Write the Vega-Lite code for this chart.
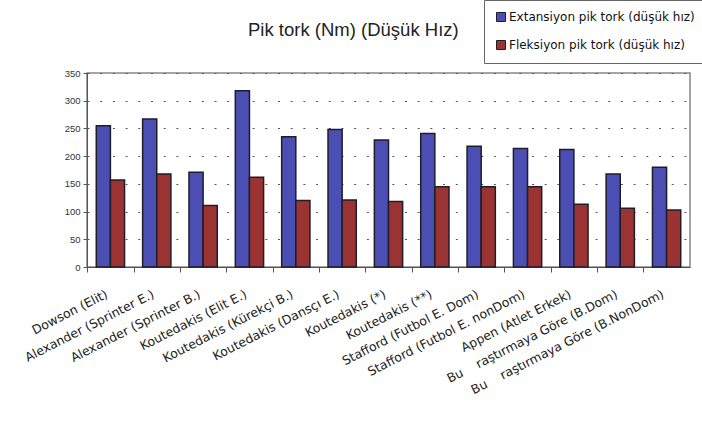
{
  "$schema": "https://vega.github.io/schema/vega-lite/v6.json",
  "autosize": "none",
  "width": 603,
  "height": 194,
  "padding": {"left": 87, "top": 73, "right": 12, "bottom": 168},
  "background": "white",
  "title": {
    "text": "Pik tork (Nm) (Düşük Hız)",
    "font": "Liberation Sans",
    "fontSize": 18.5,
    "fontWeight": "normal",
    "color": "#222",
    "anchor": "start",
    "frame": "group",
    "dx": 161,
    "baseline": "alphabetic",
    "offset": -55
  },
  "data": {
    "values": [
      {"kategori": "Dowson (Elit)", "seri": "Extansiyon pik tork (düşük hız)", "tork": 255},
      {"kategori": "Dowson (Elit)", "seri": "Fleksiyon pik tork (düşük hız)", "tork": 157},
      {"kategori": "Alexander (Sprinter E.)", "seri": "Extansiyon pik tork (düşük hız)", "tork": 267},
      {"kategori": "Alexander (Sprinter E.)", "seri": "Fleksiyon pik tork (düşük hız)", "tork": 168},
      {"kategori": "Alexander (Sprinter B.)", "seri": "Extansiyon pik tork (düşük hız)", "tork": 171},
      {"kategori": "Alexander (Sprinter B.)", "seri": "Fleksiyon pik tork (düşük hız)", "tork": 111},
      {"kategori": "Koutedakis (Elit E.)", "seri": "Extansiyon pik tork (düşük hız)", "tork": 318},
      {"kategori": "Koutedakis (Elit E.)", "seri": "Fleksiyon pik tork (düşük hız)", "tork": 162},
      {"kategori": "Koutedakis (Kürekçi B.)", "seri": "Extansiyon pik tork (düşük hız)", "tork": 235},
      {"kategori": "Koutedakis (Kürekçi B.)", "seri": "Fleksiyon pik tork (düşük hız)", "tork": 120},
      {"kategori": "Koutedakis (Dansçı E.)", "seri": "Extansiyon pik tork (düşük hız)", "tork": 248},
      {"kategori": "Koutedakis (Dansçı E.)", "seri": "Fleksiyon pik tork (düşük hız)", "tork": 121},
      {"kategori": "Koutedakis (*)", "seri": "Extansiyon pik tork (düşük hız)", "tork": 229},
      {"kategori": "Koutedakis (*)", "seri": "Fleksiyon pik tork (düşük hız)", "tork": 118},
      {"kategori": "Koutedakis (**)", "seri": "Extansiyon pik tork (düşük hız)", "tork": 241},
      {"kategori": "Koutedakis (**)", "seri": "Fleksiyon pik tork (düşük hız)", "tork": 145},
      {"kategori": "Stafford (Futbol E. Dom)", "seri": "Extansiyon pik tork (düşük hız)", "tork": 218},
      {"kategori": "Stafford (Futbol E. Dom)", "seri": "Fleksiyon pik tork (düşük hız)", "tork": 145},
      {"kategori": "Stafford (Futbol E. nonDom)", "seri": "Extansiyon pik tork (düşük hız)", "tork": 214},
      {"kategori": "Stafford (Futbol E. nonDom)", "seri": "Fleksiyon pik tork (düşük hız)", "tork": 145},
      {"kategori": "Appen (Atlet Erkek)", "seri": "Extansiyon pik tork (düşük hız)", "tork": 212},
      {"kategori": "Appen (Atlet Erkek)", "seri": "Fleksiyon pik tork (düşük hız)", "tork": 113},
      {"kategori": "Bu\u00a0\u00a0\u00a0\u00a0raştırmaya Göre (B.Dom)", "seri": "Extansiyon pik tork (düşük hız)", "tork": 168},
      {"kategori": "Bu\u00a0\u00a0\u00a0\u00a0raştırmaya Göre (B.Dom)", "seri": "Fleksiyon pik tork (düşük hız)", "tork": 106},
      {"kategori": "Bu\u00a0\u00a0\u00a0\u00a0raştırmaya Göre (B.NonDom)", "seri": "Extansiyon pik tork (düşük hız)", "tork": 180},
      {"kategori": "Bu\u00a0\u00a0\u00a0\u00a0raştırmaya Göre (B.NonDom)", "seri": "Fleksiyon pik tork (düşük hız)", "tork": 103}
    ]
  },
  "mark": {"type": "bar", "stroke": "#1e1e28", "strokeWidth": 1.5},
  "encoding": {
    "x": {
      "field": "kategori",
      "type": "nominal",
      "sort": null,
      "scale": {"paddingInner": 0.39, "paddingOuter": 0.2},
      "axis": {
        "title": null,
        "bandPosition": 0,
        "tickOffset": -9,
        "labelOffset": 5,
        "labelAngle": -27,
        "labelAlign": "right",
        "labelBaseline": "middle",
        "labelPadding": 21,
        "labelFont": "DejaVu Sans",
        "labelFontSize": 12.5,
        "labelColor": "#222",
        "labelLimit": 300,
        "domainColor": "#555",
        "tickColor": "#555",
        "tickSize": 5
      }
    },
    "xOffset": {
      "field": "seri",
      "type": "nominal",
      "sort": ["Extansiyon pik tork (düşük hız)", "Fleksiyon pik tork (düşük hız)"],
      "scale": {"paddingInner": 0, "paddingOuter": 0}
    },
    "y": {
      "field": "tork",
      "type": "quantitative",
      "scale": {"domain": [0, 350], "nice": false},
      "axis": {
        "title": null,
        "values": [0, 50, 100, 150, 200, 250, 300, 350],
        "labelFont": "Liberation Sans",
        "labelFontSize": 9.5,
        "labelColor": "#333",
        "labelPadding": 3,
        "domainColor": "#555",
        "tickColor": "#555",
        "tickSize": 4,
        "grid": true,
        "gridColor": "#555",
        "gridDash": [2, 10.7],
        "gridWidth": 1
      }
    },
    "color": {
      "field": "seri",
      "type": "nominal",
      "scale": {
        "domain": ["Extansiyon pik tork (düşük hız)", "Fleksiyon pik tork (düşük hız)"],
        "range": ["#4b4fb3", "#9b3333"]
      },
      "legend": {
        "title": null,
        "orient": "none",
        "legendX": 397,
        "legendY": -73,
        "symbolType": "square",
        "symbolSize": 81,
        "symbolStrokeColor": "#1e1e28",
        "symbolStrokeWidth": 1,
        "symbolOffset": 0,
        "labelFont": "DejaVu Sans",
        "labelFontSize": 12,
        "labelColor": "#111",
        "labelOffset": 2,
        "labelLimit": 300,
        "rowPadding": 14,
        "padding": 11,
        "strokeColor": "#666",
        "fillColor": "white"
      }
    }
  },
  "config": {
    "view": {"stroke": "#888", "strokeWidth": 1.5}
  }
}
